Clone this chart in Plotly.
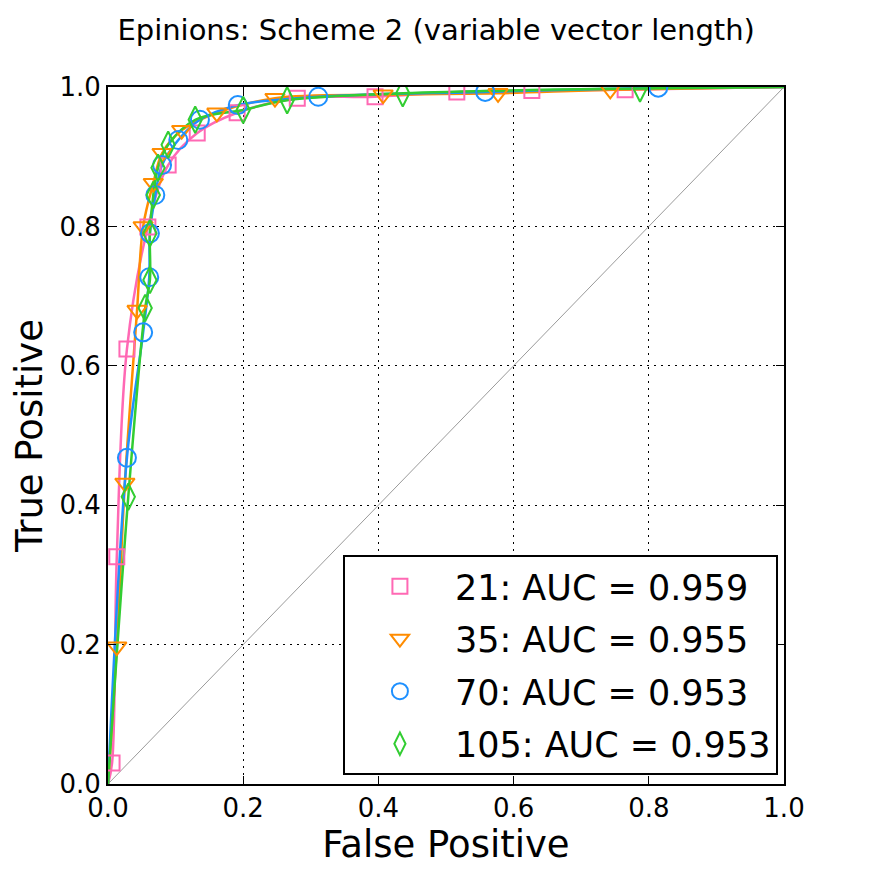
import plotly.graph_objects as go

# ROC points (False Positive, True Positive)
fp_21 = [0.0, 0.006, 0.013, 0.028, 0.059, 0.089, 0.132, 0.191, 0.280, 0.395, 0.516, 0.627, 0.765, 1.0]
tp_21 = [0.0, 0.030, 0.326, 0.624, 0.799, 0.888, 0.934, 0.963, 0.984, 0.986, 0.993, 0.995, 0.996, 1.0]

fp_35 = [0.0, 0.013, 0.025, 0.043, 0.052, 0.067, 0.080, 0.109, 0.161, 0.247, 0.407, 0.577, 0.743, 1.0]
tp_35 = [0.0, 0.197, 0.432, 0.680, 0.800, 0.862, 0.905, 0.938, 0.963, 0.984, 0.989, 0.991, 0.996, 1.0]

fp_70 = [0.0, 0.028, 0.052, 0.061, 0.062, 0.070, 0.080, 0.104, 0.136, 0.192, 0.311, 0.558, 0.814, 1.0]
tp_70 = [0.0, 0.468, 0.648, 0.727, 0.790, 0.845, 0.888, 0.924, 0.953, 0.974, 0.986, 0.993, 0.999, 1.0]

fp_105 = [0.0, 0.030, 0.055, 0.062, 0.062, 0.067, 0.074, 0.089, 0.129, 0.200, 0.265, 0.436, 0.787, 1.0]
tp_105 = [0.0, 0.412, 0.683, 0.723, 0.790, 0.845, 0.884, 0.917, 0.953, 0.967, 0.981, 0.991, 0.998, 1.0]

names = ["21: AUC = 0.959", "35: AUC = 0.955", "70: AUC = 0.953", "105: AUC = 0.953"]
colors = ["#FF69B4", "#FF8C00", "#1E90FF", "#32CD32"]
symbols = ["square-open", "triangle-down-open", "circle-open", "diamond-tall-open"]
msizes = [15, 17, 18, 19]

diag = [0.0, 1.0]
ticks = [0.0, 0.2, 0.4, 0.6, 0.8, 1.0]
tick_text = ["0.0", "0.2", "0.4", "0.6", "0.8", "1.0"]

fig = go.Figure()
fig.add_trace(go.Scatter(x=diag, y=diag, mode="lines",
                         line=dict(color="#808080", width=0.8), showlegend=False, hoverinfo="skip"))

series = [(fp_21, tp_21), (fp_35, tp_35), (fp_70, tp_70), (fp_105, tp_105)]
for (xs, ys), c in zip(series, colors):
    fig.add_trace(go.Scatter(x=xs, y=ys, mode="lines", line=dict(color=c, width=2.5, shape="spline", smoothing=1.0),
                             showlegend=False))
for i, ((xs, ys), c, s, n, ms) in enumerate(zip(series, colors, symbols, names, msizes)):
    fig.add_trace(go.Scatter(x=xs[1:-1], y=ys[1:-1], mode="markers", name=n, legendgroup=f"g{i}",
                             marker=dict(symbol=s, size=ms, color=c, line=dict(color=c, width=2))))

axis_common = dict(range=[0, 1], tickvals=ticks, ticktext=tick_text, showline=True, mirror="ticks",
                   linecolor="black", linewidth=2, ticks="inside", ticklen=8, tickwidth=1, tickcolor="black",
                   showgrid=True, gridcolor="black", gridwidth=1, griddash="2px,5px", zeroline=False,
                   tickfont=dict(size=26, color="black"))

fig.update_layout(
    width=872, height=872,
    margin=dict(l=100, r=96, t=79, b=96),
    paper_bgcolor="white", plot_bgcolor="white",
    font=dict(family="DejaVu Sans", color="black"),
    title=dict(text="Epinions: Scheme 2 (variable vector length)", x=0.491, xanchor="center",
               y=0.975, yanchor="middle", font=dict(size=29, color="black")),
    xaxis=dict(title=dict(text="False Positive", font=dict(size=37), standoff=8), **axis_common),
    yaxis=dict(title=dict(text="True Positive", font=dict(size=37), standoff=8), **axis_common),
    legend=dict(x=0.991, y=0.013, xanchor="right", yanchor="bottom", bgcolor="white",
                bordercolor="black", borderwidth=2, font=dict(size=35, color="black"),
                itemwidth=100, traceorder="grouped", tracegroupgap=4),
    showlegend=True,
)

fig.write_html("out.html")
